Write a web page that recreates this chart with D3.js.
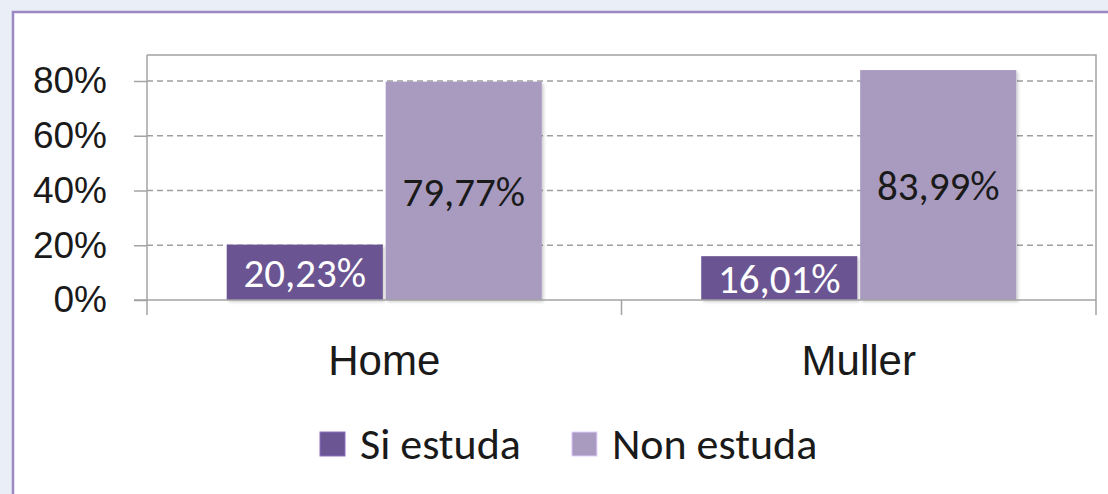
<!DOCTYPE html>
<html lang="en">
<head>
<meta charset="UTF-8" />
<title>Si estuda / Non estuda</title>
<script src="https://d3js.org/d3.v7.min.js"></script>
<style>
  html, body { margin: 0; padding: 0; background: #eaeef7; }
  svg { display: block; font-family: Carlito, Calibri, Lato, sans-serif; }
</style>
</head>
<body>
<svg id="chart" width="1108" height="494"></svg>
<script>
  // data
  const categories = ["Home", "Muller"];
  const seriesNames = ["Si estuda", "Non estuda"];
  const siEstuda = [0.2023, 0.1601];
  const nonEstuda = [0.7977, 0.8399];
  const yTicks = [0, 0.2, 0.4, 0.6, 0.8];

  const colors = { "Si estuda": "#6b5592", "Non estuda": "#a99ac0" };
  const labelColors = { "Si estuda": "#ffffff", "Non estuda": "#1a1a1a" };

  const rows = categories.map((c, i) => ({
    cat: c,
    values: [
      { key: seriesNames[0], value: siEstuda[i] },
      { key: seriesNames[1], value: nonEstuda[i] }
    ]
  }));

  const svg = d3.select("#chart");

  const defs = svg.append("defs");
  const sh = defs.append("filter").attr("id", "shadow")
    .attr("x", "-10%").attr("y", "-10%").attr("width", "130%").attr("height", "130%");
  sh.append("feDropShadow").attr("dx", 2).attr("dy", 2).attr("stdDeviation", 1.5)
    .attr("flood-color", "#000").attr("flood-opacity", 0.18);

  // white panel with purple border
  svg.append("rect")
    .attr("x", 13).attr("y", 12).attr("width", 1110).attr("height", 500)
    .attr("fill", "#fff").attr("stroke", "#9c88c2").attr("stroke-width", 2.5);

  const plot = { left: 147, right: 1096, top: 55, bottom: 300 };

  const x0 = d3.scaleBand().domain(categories).range([plot.left, plot.right]);
  const groupW = x0.bandwidth() * 0.664;
  const x1 = d3.scaleBand().domain(seriesNames)
    .range([(x0.bandwidth() - groupW) / 2, (x0.bandwidth() + groupW) / 2])
    .paddingInner(0.018);
  const y = d3.scaleLinear().domain([0, 0.895]).range([plot.bottom, plot.top]);

  const axisColor = "#a3a3a3";

  // gridlines
  svg.append("g").selectAll("line")
    .data(yTicks.filter(d => d > 0))
    .join("line")
      .attr("x1", plot.left).attr("x2", plot.right)
      .attr("y1", d => y(d)).attr("y2", d => y(d))
      .attr("stroke", "#9f9f9f").attr("stroke-width", 1.4)
      .attr("stroke-dasharray", "6,4");

  // plot frame: top and right
  svg.append("path")
    .attr("d", `M${plot.left},${plot.top}H${plot.right}V${plot.bottom + 15}`)
    .attr("fill", "none").attr("stroke", axisColor).attr("stroke-width", 1.5);

  // y axis
  const yAxis = svg.append("g")
    .attr("transform", `translate(${plot.left},0)`)
    .call(d3.axisLeft(y).tickValues(yTicks).tickSize(13).tickPadding(27)
      .tickFormat(d3.format(".0%")));
  yAxis.select(".domain").remove();
  yAxis.selectAll(".tick line").attr("stroke", axisColor).attr("stroke-width", 1.5);
  yAxis.selectAll(".tick text").attr("font-size", 37).attr("fill", "#1a1a1a");
  svg.append("line")
    .attr("x1", plot.left).attr("x2", plot.left)
    .attr("y1", plot.top).attr("y2", plot.bottom + 15)
    .attr("stroke", axisColor).attr("stroke-width", 1.5);

  // bars
  const groups = svg.append("g").selectAll("g")
    .data(rows)
    .join("g")
      .attr("transform", d => `translate(${x0(d.cat)},0)`);

  groups.selectAll("rect")
    .data(d => d.values)
    .join("rect")
      .attr("x", d => x1(d.key))
      .attr("width", x1.bandwidth())
      .attr("y", d => y(d.value))
      .attr("height", d => y(0) - y(d.value))
      .attr("fill", d => colors[d.key])
      .attr("filter", "url(#shadow)");

  groups.selectAll("text")
    .data(d => d.values)
    .join("text")
      .attr("x", d => x1(d.key) + x1.bandwidth() / 2)
      .attr("y", d => (y(d.value) + y(0)) / 2)
      .attr("dy", "0.36em")
      .attr("text-anchor", "middle")
      .attr("font-size", 41)
      .attr("fill", d => labelColors[d.key])
      .text(d => d3.format(".2f")(d.value * 100).replace(".", ",") + "%");

  // x axis line and category ticks
  svg.append("line")
    .attr("x1", plot.left - 13).attr("x2", plot.right)
    .attr("y1", plot.bottom).attr("y2", plot.bottom)
    .attr("stroke", axisColor).attr("stroke-width", 1.5);
  svg.append("g").selectAll("line")
    .data(categories.slice(1))
    .join("line")
      .attr("x1", d => x0(d)).attr("x2", d => x0(d))
      .attr("y1", plot.bottom).attr("y2", plot.bottom + 15)
      .attr("stroke", axisColor).attr("stroke-width", 1.5);

  const xAxis = svg.append("g")
    .attr("transform", `translate(0,${plot.bottom})`)
    .call(d3.axisBottom(x0).tickSize(0).tickPadding(45));
  xAxis.select(".domain").remove();
  xAxis.selectAll(".tick text").attr("font-size", 42).attr("fill", "#1a1a1a");

  // legend
  const legend = svg.append("g").attr("transform", "translate(320,432)");
  let lx = 0;
  seriesNames.forEach(name => {
    const item = legend.append("g").attr("transform", `translate(${lx},0)`);
    item.append("rect")
      .attr("width", 25).attr("height", 24)
      .attr("fill", colors[name])
      .attr("stroke", d3.color(colors[name]).brighter(0.8)).attr("stroke-width", 1);
    const t = item.append("text")
      .attr("x", 40).attr("y", 27)
      .attr("font-size", 44).attr("fill", "#1a1a1a")
      .text(name);
    lx += 40 + t.node().getComputedTextLength() + 51;
  });
</script>
</body>
</html>
